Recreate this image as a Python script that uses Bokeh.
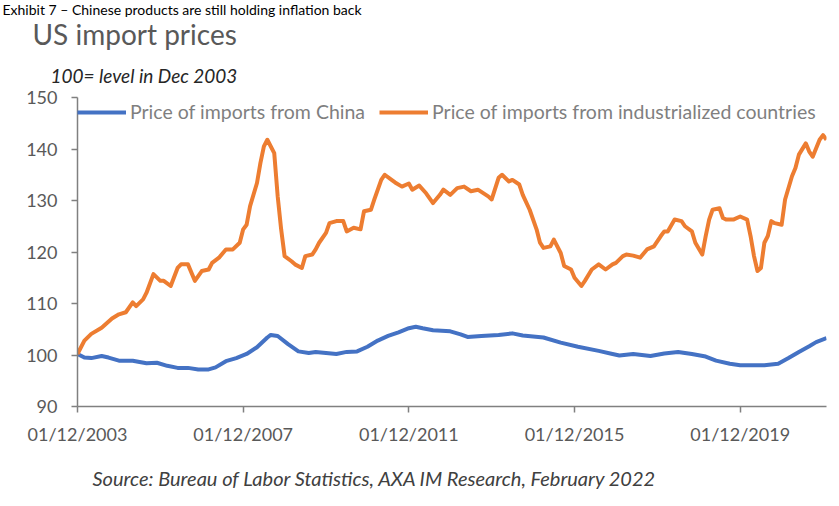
from bokeh.plotting import figure
from bokeh.models import Range1d, FixedTicker, Legend, LegendItem, Title
from bokeh.embed import file_html
from bokeh.resources import INLINE

# months since Dec 2003
x_ticks = [0, 48, 96, 144, 192]
x_tick_labels = ["01/12/2003", "01/12/2007", "01/12/2011", "01/12/2015", "01/12/2019"]
y_ticks = [90, 100, 110, 120, 130, 140, 150]

china_months = [0, 2, 4, 7, 9, 12, 16, 20, 23, 26, 29, 32, 35, 38, 40, 43, 46, 49, 52, 55, 56, 58,
                61, 64, 67, 69, 72, 75, 78, 81, 84, 87, 90, 93, 96, 98, 100, 103, 108, 111, 113,
                117, 122, 126, 129, 135, 140, 145, 151, 155, 157, 161, 166, 170, 174, 178, 182,
                185, 189, 192, 196, 199, 203, 206, 209, 212, 214, 217]
china_values = [100.2, 99.5, 99.4, 99.8, 99.5, 98.9, 98.9, 98.4, 98.5, 97.9, 97.5, 97.5, 97.2, 97.2,
                97.6, 98.8, 99.4, 100.2, 101.5, 103.4, 103.9, 103.7, 102.1, 100.7, 100.4, 100.6,
                100.4, 100.2, 100.6, 100.7, 101.6, 102.8, 103.7, 104.4, 105.2, 105.5, 105.2, 104.8,
                104.6, 104.0, 103.5, 103.7, 103.9, 104.2, 103.8, 103.4, 102.4, 101.6, 100.8, 100.2,
                99.9, 100.2, 99.8, 100.3, 100.6, 100.2, 99.7, 98.9, 98.3, 98.0, 98.0, 98.0, 98.3,
                99.4, 100.6, 101.7, 102.5, 103.3]

ind_months = [0, 2, 4, 7, 10, 12, 14, 16, 17, 19, 20, 22, 24, 25, 27, 29, 30, 32, 34, 36, 38, 39,
              41, 43, 45, 47, 48, 49, 50, 52, 53, 54, 55, 57, 58, 59, 60, 62, 63, 65, 66, 68, 69,
              70, 72, 73, 75, 77, 78, 80, 82, 83, 85, 86, 88, 89, 91, 92, 94, 96, 97, 99, 101,
              103, 105, 106, 108, 110, 112, 114, 116, 119, 120, 122, 123, 125, 126, 128, 129,
              131, 133, 134, 135, 137, 138, 140, 141, 143, 144, 146, 147, 149, 151, 153, 155,
              156, 158, 159, 161, 163, 165, 167, 169, 170, 171, 173, 175, 176, 178, 179, 181,
              182, 183, 184, 186, 187, 188, 190, 192, 194, 195, 196, 197, 198, 199, 200, 201,
              202, 204, 205, 207, 208, 209, 211, 212, 213, 215, 216, 217]
ind_values = [100.2, 102.8, 104.1, 105.3, 107.1, 107.9, 108.3, 110.2, 109.5, 110.8, 112.1, 115.7,
              114.4, 114.4, 113.4, 116.9, 117.6, 117.6, 114.4, 116.3, 116.6, 117.9, 118.9, 120.5,
              120.5, 121.8, 124.4, 125.3, 128.9, 133.4, 137.3, 140.5, 141.8, 139.2, 130.8, 124.4,
              119.2, 118.2, 117.6, 116.9, 119.2, 119.5, 120.5, 121.8, 123.7, 125.6, 126.0, 126.0,
              124.0, 124.7, 124.4, 127.9, 128.2, 130.2, 134.0, 135.0, 134.0, 133.5, 132.7, 133.3,
              132.1, 132.9, 131.4, 129.5, 131.1, 132.1, 131.1, 132.4, 132.7, 131.8, 132.1, 130.8,
              130.2, 134.4, 135.0, 133.7, 134.0, 133.1, 131.1, 128.2, 124.4, 121.8, 120.8, 121.1,
              122.4, 119.8, 117.3, 116.6, 115.0, 113.4, 114.4, 116.6, 117.6, 116.6, 117.6, 117.9,
              119.2, 119.5, 119.3, 118.9, 120.5, 121.1, 123.1, 124.0, 124.0, 126.3, 126.0, 125.0,
              124.0, 121.8, 119.5, 123.1, 126.3, 128.2, 128.5, 126.6, 126.3, 126.3, 126.9, 126.3,
              123.1, 119.2, 116.3, 116.9, 121.8, 123.1, 126.0, 125.6, 125.3, 130.2, 134.7, 136.3,
              138.9, 141.1, 139.5, 138.5, 141.8, 142.7, 141.8]

FONT = "Lato"

p = figure(width=839, height=506, output_backend="svg", toolbar_location=None,
           x_range=Range1d(0, 217), y_range=Range1d(90, 150),
           min_border_left=77, min_border_right=13, min_border_top=96, min_border_bottom=100)
p.xgrid.visible = False
p.ygrid.visible = False
p.outline_line_color = None
p.background_fill_color = "white"
p.border_fill_color = "white"

for ax in (p.xaxis[0], p.yaxis[0]):
    ax.axis_line_color = "#808080"
    ax.axis_line_width = 1.5
    ax.major_tick_line_color = "#808080"
    ax.major_tick_line_width = 1.5
    ax.minor_tick_line_color = None
    ax.major_tick_in = 0
    ax.major_tick_out = 6
    ax.major_label_text_font = FONT
    ax.major_label_text_font_size = "18px"
    ax.major_label_text_color = "#595959"

p.xaxis.ticker = FixedTicker(ticks=x_ticks)
p.xaxis.major_label_overrides = {t: l for t, l in zip(x_ticks, x_tick_labels)}
p.xaxis.major_label_standoff = 10
p.yaxis.ticker = FixedTicker(ticks=y_ticks)
p.yaxis.major_label_standoff = 14

r_china = p.line(china_months, china_values, line_color="#4472C4", line_width=4, line_join="round")
r_ind = p.line(ind_months, ind_values, line_color="#ED7D31", line_width=4, line_join="round")

legend = Legend(items=[LegendItem(label="Price of imports from China", renderers=[r_china]),
                       LegendItem(label="Price of imports from industrialized countries", renderers=[r_ind])],
                orientation="horizontal", location=(0, 283), glyph_width=49, glyph_height=20,
                label_height=20, label_standoff=4, spacing=14, padding=0, margin=0,
                background_fill_alpha=0, border_line_color=None,
                label_text_font=FONT, label_text_font_size="19.5px", label_text_color="#7f7f7f")
p.add_layout(legend, "center")

# titles above the frame: first added sits closest to the frame
p.add_layout(Title(text="100= level in Dec 2003", align="left", offset=-27, standoff=22,
                   text_font=FONT, text_font_style="italic", text_font_size="19px",
                   text_color="#262626"), "above")
p.add_layout(Title(text="US import prices", align="left", offset=-45, standoff=-1.2,
                   text_font=FONT, text_font_style="normal", text_font_size="28px",
                   text_color="#595959"), "above")
p.add_layout(Title(text="Exhibit 7 \u2013 Chinese products are still holding inflation back",
                   align="left", offset=-75, standoff=-4,
                   text_font=FONT, text_font_style="normal", text_font_size="14px",
                   text_color="black"), "above")
p.add_layout(Title(text="Source: Bureau of Labor Statistics, AXA IM Research, February 2022",
                   align="left", offset=15, standoff=33, vertical_align="bottom",
                   text_font=FONT, text_font_style="italic", text_font_size="20px",
                   text_color="#404040"), "below")

open("out.html", "w").write(file_html(p, INLINE))
